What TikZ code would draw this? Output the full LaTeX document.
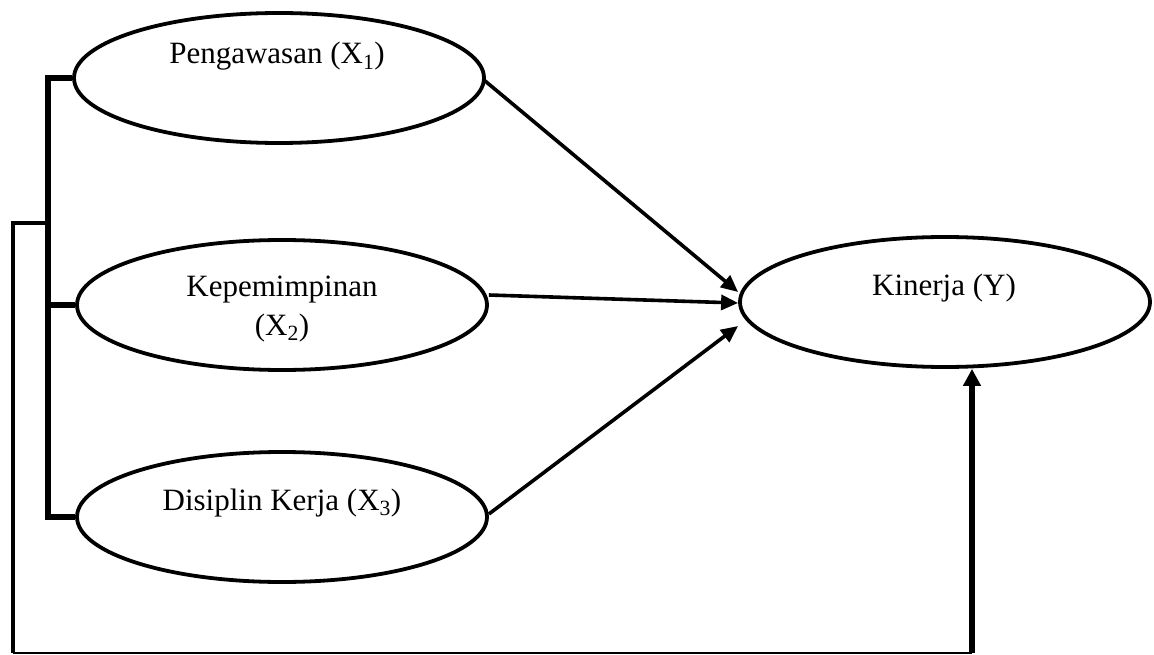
\documentclass[tikz,border=0pt]{standalone}
\usepackage{fontspec}
\setmainfont{Liberation Serif}
\usetikzlibrary{shapes.geometric,arrows.meta,calc}
\begin{document}
\begin{tikzpicture}[x=1pt,y=-1pt,
  oval/.style={draw,ellipse,line width=3.8pt,inner sep=0pt,minimum width=410pt,minimum height=130pt},
  lbl/.style={font=\fontsize{31}{36}\selectfont,anchor=base,inner sep=0pt},
  arr/.style={line width=3.6pt,-{Triangle[length=17pt,width=15pt]}},
  brk/.style={line width=5.5pt},
  outer/.style={line width=4.5pt}
]
\useasboundingbox (0,0) rectangle (1154,655);
\node[oval] (e1) at (279,78) {};
\node[oval] (e2) at (282,305) {};
\node[oval] (e3) at (282,517) {};
\node[oval] (ky) at (945,302) {};
\node[lbl] (t1) at (277,64) {Pengawasan (X\textsubscript{1})};
\node[lbl] (t2a) at (282,296) {Kepemimpinan};
\node[lbl] (t2b) at (282,335) {(X\textsubscript{2})};
\node[lbl] (t3) at (282,510) {Disiplin Kerja (X\textsubscript{3})};
\node[lbl] (t4) at (944,295) {Kinerja (Y)};
% bracket
\coordinate (b1) at (48,78);
\coordinate (b2) at (48,305);
\coordinate (b3) at (48,517);
\coordinate (bj) at (48,223);
\draw[brk,line join=miter] (e1.west) -- (b1) -- (b3) -- (e3.west);
\draw[brk] (b2) -- (e2.west);
% outer feedback line
\coordinate (o1) at (13,223);
\coordinate (o2) at (13,653);
\coordinate (o3) at (972,653);
\draw[outer,line join=miter] (bj) -- (o1) -- (o2);
\draw[line width=2.5pt] (o2) -- (o3);
\draw[line width=6.5pt,-{Triangle[length=17pt,width=17pt]}] (o3) -- (o3 |- ky.south);
% arrows to Kinerja
\draw[arr] ($(e1.east)+(-2,2)$) -- ($(ky.west)+(0,-10)$);
\draw[arr] ($(e2.east)+(0,-10)$) -- ($(ky.west)+(0,1)$);
\draw[arr] ($(e3.east)+(0,-3)$) -- ($(ky.west)+(0,24)$);
\end{tikzpicture}
\end{document}
